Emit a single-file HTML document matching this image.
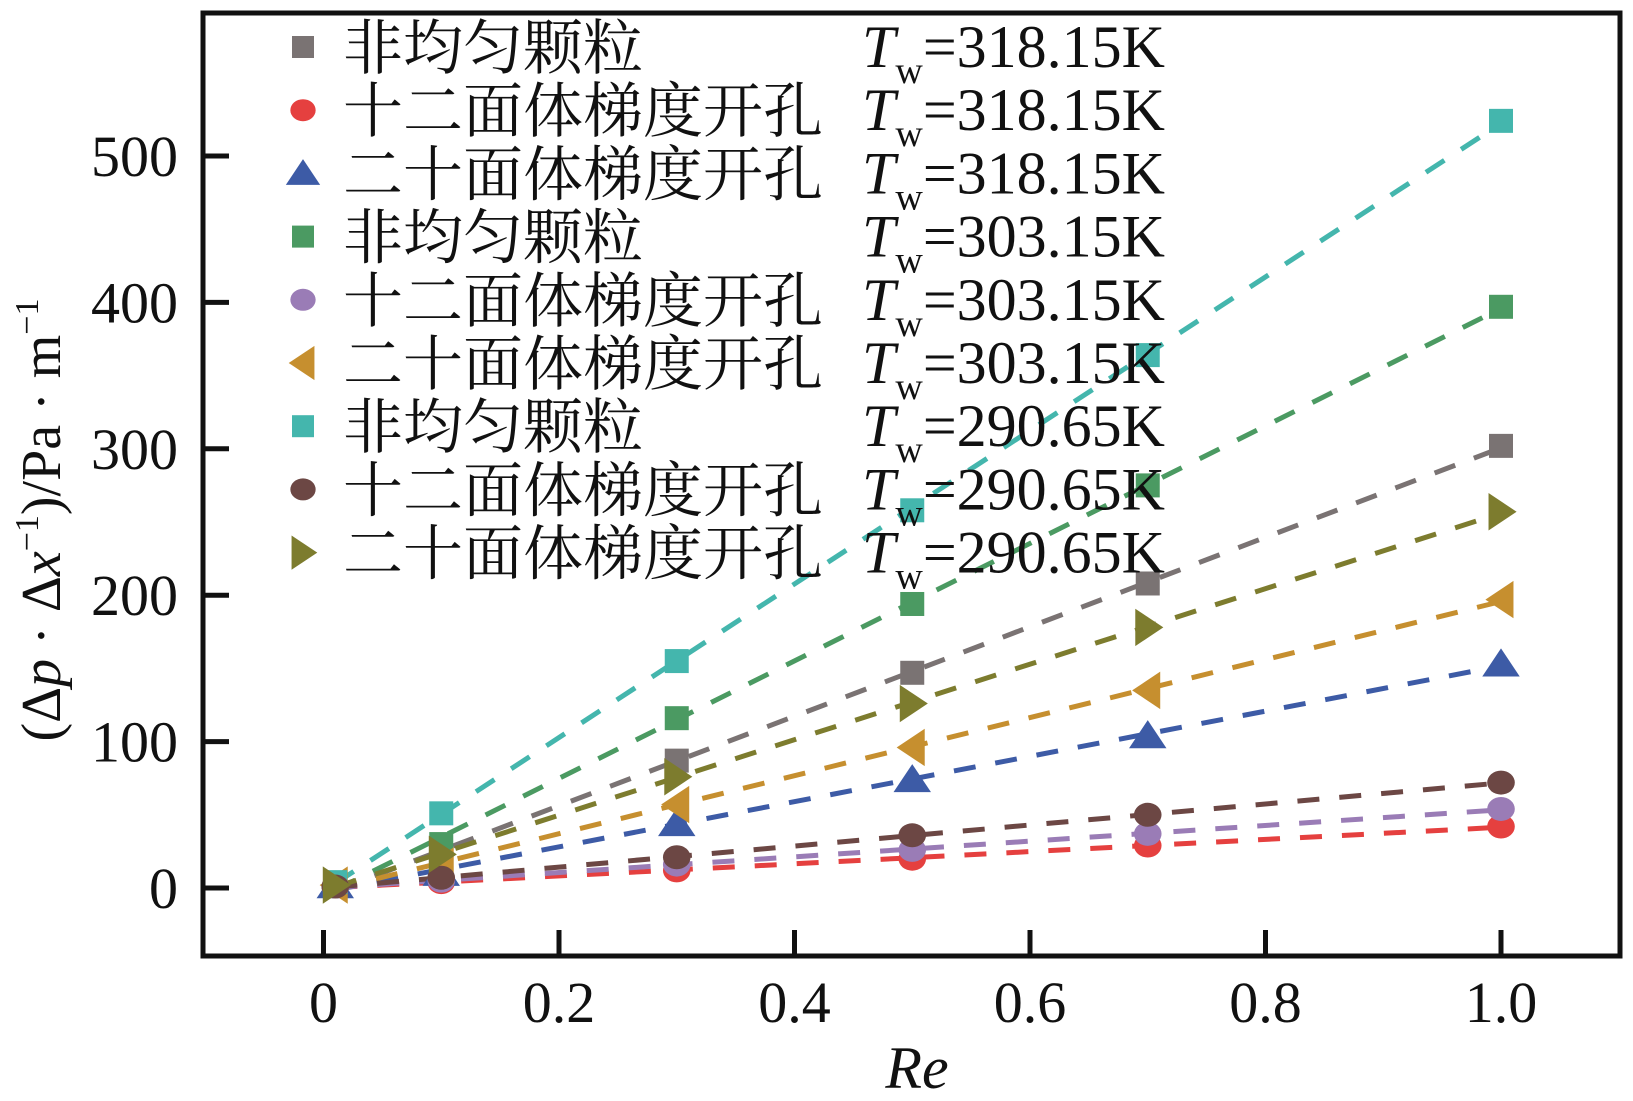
<!DOCTYPE html>
<html><head><meta charset="utf-8"><style>
html,body{margin:0;padding:0;background:#fff;}
svg text{font-family:"Liberation Serif","Noto Serif CJK SC",serif;fill:#111;}
</style></head><body>
<svg id="chart" width="1633" height="1096" xmlns="http://www.w3.org/2000/svg">
<g id="lines"></g>
<g id="marks"></g>
<g id="axes"></g>
<g id="legend"></g>
<text transform="translate(60,520) rotate(-90)" text-anchor="middle" font-size="56">(Δ<tspan font-style="italic">p</tspan> · Δ<tspan font-style="italic">x</tspan><tspan font-size="34" dy="-22">−1</tspan><tspan dy="22">)/Pa · m</tspan><tspan font-size="34" dy="-22">−1</tspan></text>
<text x="917" y="1088" text-anchor="middle" font-size="60" font-style="italic">Re</text>
</svg>
<script>
const xVals=[0.01,0.1,0.3,0.5,0.7,1.0];
const s1=[2,22,87,147,208,302];
const s2=[1,4,12,20,29,42];
const s3=[1.5,10,44,74,104,153];
const s4=[3,30,116,194,275,397];
const s5=[1,5,16,26,37,54];
const s6=[2,15,57,96,135,197];
const s7=[4,51,155,258,364,524];
const s8=[1,7,21,36,50,72];
const s9=[2,23,76,126,178,257];
const seriesNames=["非均匀颗粒","十二面体梯度开孔","二十面体梯度开孔","非均匀颗粒","十二面体梯度开孔","二十面体梯度开孔","非均匀颗粒","十二面体梯度开孔","二十面体梯度开孔"];
const temps=["318.15","318.15","318.15","303.15","303.15","303.15","290.65","290.65","290.65"];
const xTicks=[0,0.2,0.4,0.6,0.8,1.0];
const xTickLabels=["0","0.2","0.4","0.6","0.8","1.0"];
const yTicks=[0,100,200,300,400,500];
const yTickLabels=["0","100","200","300","400","500"];

const series=[s1,s2,s3,s4,s5,s6,s7,s8,s9];
const colors=["#7a7373","#e5403f","#3d5ba6","#4b9a62","#9a7cb6","#c68f2f","#44b6ad","#6c4744","#7d7c2e"];
const shapes=["sq","ci","tu","sq","ci","tl","sq","ci","tr"];
const L=203,T=13,R=1620,B=956;
const X=v=>323.5+v*1177.5;
const Y=v=>888-v*1.464;
const NS="http://www.w3.org/2000/svg";
function mk(t,a,p){const e=document.createElementNS(NS,t);for(const k in a)e.setAttribute(k,a[k]);p.appendChild(e);return e;}
function marker(shape,cx,cy,col,p,r){
  r=r||12;let e;
  if(shape==="sq")e=mk("rect",{x:cx-r,y:cy-r,width:2*r,height:2*r,fill:col},p);
  else if(shape==="ci")e=mk("ellipse",{cx:cx,cy:cy,rx:r*1.15,ry:r,fill:col},p);
  else{let pts;const s=r*1.3;
    if(shape==="tu")pts=[[cx,cy-s],[cx+s*1.2,cy+s*0.8],[cx-s*1.2,cy+s*0.8]];
    else if(shape==="tl")pts=[[cx-s,cy],[cx+s*0.8,cy-s*1.2],[cx+s*0.8,cy+s*1.2]];
    else pts=[[cx+s,cy],[cx-s*0.8,cy-s*1.2],[cx-s*0.8,cy+s*1.2]];
    e=mk("polygon",{points:pts.map(q=>q.join(",")).join(" "),fill:col},p);}
  return e;}
const gl=document.getElementById("lines"),gm=document.getElementById("marks"),ga=document.getElementById("axes"),gleg=document.getElementById("legend");
series.forEach((s,i)=>{
  // least-squares fit through data
  const n=xVals.length;let sx=0,sy=0,sxx=0,sxy=0;
  for(let j=0;j<n;j++){sx+=xVals[j];sy+=s[j];sxx+=xVals[j]*xVals[j];sxy+=xVals[j]*s[j];}
  const m=(n*sxy-sx*sy)/(n*sxx-sx*sx),b=(sy-m*sx)/n;
  const x0=xVals[0],x1=xVals[n-1];
  const ln=mk("line",{x1:X(x0),y1:Y(m*x0+b),x2:X(x1),y2:Y(m*x1+b),stroke:colors[i],"stroke-width":5,"stroke-dasharray":"22 20"},gl);
  
  
});
series.forEach((s,i)=>{
  s.forEach((v,j)=>{
    const e=marker(shapes[i],X(xVals[j]),Y(v),colors[i],gm);
    
    
  });
});
const fr=mk("rect",{x:L,y:T,width:R-L,height:B-T,fill:"none",stroke:"#111","stroke-width":5},ga);


xTicks.forEach((v,i)=>{
  const t=mk("line",{x1:X(v),x2:X(v),y1:B,y2:B-26,stroke:"#111","stroke-width":5},ga);
  
  
  const tx=mk("text",{x:X(v),y:1022,"text-anchor":"middle","font-size":58},ga);tx.textContent=xTickLabels[i];
  
  
});
yTicks.forEach((v,i)=>{
  const t=mk("line",{x1:L,x2:L+26,y1:Y(v),y2:Y(v),stroke:"#111","stroke-width":5},ga);
  
  
  const tx=mk("text",{x:178,y:Y(v)+20,"text-anchor":"end","font-size":58},ga);tx.textContent=yTickLabels[i];
  
  
});
seriesNames.forEach((nm,i)=>{
  const cy=47+i*63.2;
  const m=marker(shapes[i],303,cy,colors[i],gleg,11);
  
  
  const t=mk("text",{x:343,y:cy+22,"font-size":60},gleg);t.textContent=nm;
  
  
  const t2=mk("text",{x:862,y:cy+20,"font-size":60},gleg);
  t2.innerHTML='<tspan font-style="italic">T</tspan><tspan font-size="38" dy="16">w</tspan><tspan dy="-16">='+temps[i]+'K</tspan>';
  
  
});
</script>
</body></html>
